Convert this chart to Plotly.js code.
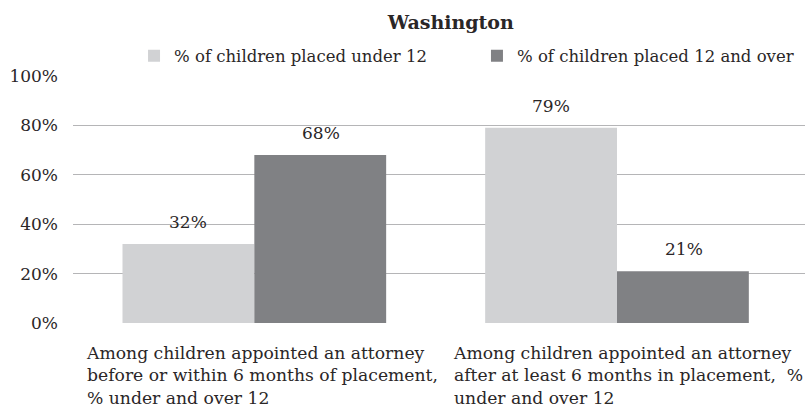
<!DOCTYPE html>
<html>
<head>
<meta charset="utf-8">
<script src="https://cdn.plot.ly/plotly-3.0.1.min.js"></script>
<style>html,body{margin:0;padding:0;background:#fff;}#chart{width:805px;height:412px;}</style>
</head>
<body>
<div id="chart"></div>
<script>
const categories = [
  "Among children appointed an attorney<br>before or within 6 months of placement,<br>% under and over 12",
  "Among children appointed an attorney<br>after at least 6 months in placement,  %<br>under and over 12"
];
const seriesNames = ["% of children placed under 12", "% of children placed 12 and over"];
const under12 = [32, 79];
const over12 = [68, 21];
const yTickVals = [0, 20, 40, 60, 80, 100];
const yTickText = ["0%", "20%", "40%", "60%", "80%", "100%"];

const catKeys = ["c1", "c2"];
const FONT = "DejaVu Serif, Liberation Serif, serif";
const TXT = "#2a2627";
const colors = ["#d1d2d4", "#808184"];
const seriesVals = [under12, over12];
const legendIds = ["legend", "legend2"];

const traces = seriesVals.map((vals, i) => ({
  type: "bar",
  name: seriesNames[i],
  legend: legendIds[i],
  x: catKeys,
  y: vals,
  marker: {color: colors[i], line: {width: 0}},
  hoverinfo: "skip"
}));

const annotations = [];
const shifts = [-66.5, 66.5];
seriesVals.forEach((vals, i) => {
  vals.forEach((v, j) => {
    annotations.push({
      x: catKeys[j], y: v, xref: "x", yref: "y",
      text: v + "%", showarrow: false,
      xshift: shifts[i], yanchor: "bottom", yshift: 10,
      font: {family: FONT, size: 17, color: TXT}
    });
  });
});
const labelShifts = [-170, -166];
categories.forEach((c, j) => {
  annotations.push({
    x: catKeys[j], y: 0, xref: "x", yref: "paper",
    text: c, showarrow: false, align: "left",
    xanchor: "left", yanchor: "top", yshift: -18, xshift: labelShifts[j],
    font: {family: FONT, size: 17.2, color: TXT}
  });
});

const legendBase = {orientation: "h", xref: "container", yref: "container", xanchor: "left",
  y: 0.864, yanchor: "middle", itemwidth: 30, bgcolor: "rgba(0,0,0,0)",
  font: {family: FONT, size: 16.5, color: TXT}};

const layout = {
  width: 805, height: 412,
  paper_bgcolor: "#fff", plot_bgcolor: "#fff",
  margin: {l: 73, r: 0, t: 76, b: 89, autoexpand: false},
  font: {family: FONT, size: 17, color: TXT},
  title: {text: "<b>Washington</b>", xref: "container", x: 0.560, xanchor: "center",
          yref: "container", y: 0.9466, yanchor: "middle",
          font: {family: FONT, size: 19, color: TXT}},
  barmode: "group",
  bargap: 0.273,
  bargroupgap: 0,
  showlegend: true,
  legend: Object.assign({}, legendBase, {x: 0.1665}),
  legend2: Object.assign({}, legendBase, {x: 0.5925}),
  xaxis: {type: "category", showticklabels: false, showgrid: false, zeroline: false,
          showline: false, ticks: "", fixedrange: true},
  yaxis: {range: [0, 100], tickvals: yTickVals, ticktext: yTickText,
          showgrid: true, gridcolor: "#b5b5b7", gridwidth: 1.3, zeroline: false,
          showline: false, ticks: "", ticklabelstandoff: 14,
          tickfont: {family: FONT, size: 17, color: TXT}, fixedrange: true},
  annotations: annotations
};

Plotly.newPlot("chart", traces, layout, {displayModeBar: false, staticPlot: true});
</script>
</body>
</html>
